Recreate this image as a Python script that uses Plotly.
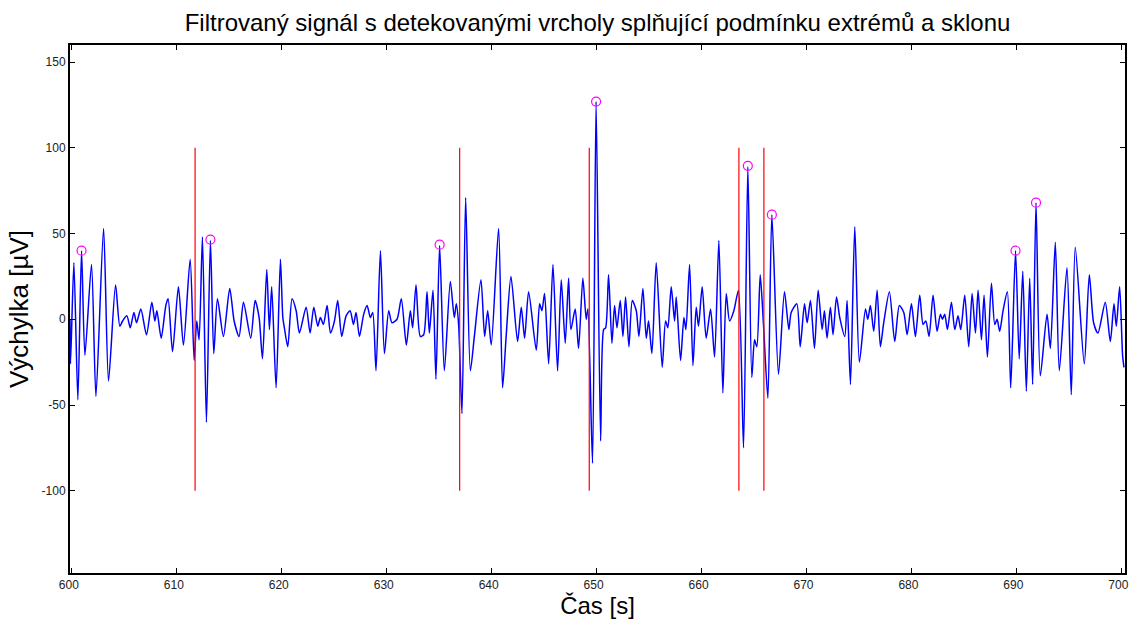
import plotly.graph_objects as go

# signal extrema (time [s], amplitude [uV])
t_sig = [599.82, 599.87, 600.19, 600.57, 600.92, 601.24, 601.87, 602.29, 603.02, 603.49,
         604.16, 604.57, 604.83, 605.24, 605.56, 605.91, 606.16, 606.57, 607.11, 607.62,
         607.91, 608.10, 608.51, 608.95, 609.17, 609.59, 610.15, 610.63, 611.27, 611.65,
         611.90, 612.12, 612.44, 612.82, 613.20, 613.52, 613.87, 614.44, 615.04, 615.46,
         615.93, 616.35, 617.04, 617.46, 617.84, 618.16, 618.57, 618.82, 619.04, 619.46,
         619.87, 620.10, 620.25, 620.57, 620.98, 621.37, 621.68, 622.32, 622.70, 623.05,
         623.43, 623.68, 623.97, 624.32, 624.64, 625.02, 625.33, 625.71, 626.13, 626.51,
         626.83, 627.08, 627.40, 627.81, 628.13, 628.44, 628.67, 628.98, 629.40, 629.78,
         630.19, 630.50, 630.98, 631.39, 631.87, 632.25, 632.47, 632.79, 633.20, 633.52,
         633.84, 634.06, 634.41, 634.69, 635.04, 635.49, 636.06, 636.44, 636.63, 636.85,
         637.17, 637.52, 637.97, 638.35, 638.98, 639.33, 639.62, 639.96, 640.66, 641.04,
         641.39, 641.84, 642.47, 642.82, 643.14, 643.52, 644.25, 644.57, 644.79, 645.04,
         645.43, 645.84, 646.28, 646.63, 647.01, 647.33, 647.55, 647.96, 648.28, 648.69,
         649.01, 649.17, 649.61, 649.95, 650.38, 650.67, 650.86, 651.14, 651.46, 651.71,
         651.94, 652.25, 652.51, 652.76, 653.08, 653.40, 653.78, 654.03, 654.41, 654.73,
         654.95, 655.27, 655.68, 656.25, 656.57, 656.79, 657.11, 657.43, 657.59, 658.00,
         658.32, 658.51, 658.86, 659.18, 659.49, 659.71, 660.06, 660.44, 660.86, 661.24,
         661.65, 662.03, 662.35, 662.67, 663.08, 663.52, 664.00, 664.41, 664.79, 665.05,
         665.27, 665.59, 665.90, 666.32, 666.70, 667.33, 667.90, 668.32, 668.54, 669.08,
         669.40, 669.81, 670.06, 670.38, 670.76, 671.11, 671.49, 671.71, 671.96, 672.28,
         672.53, 672.86, 673.17, 673.65, 673.87, 674.19, 674.60, 675.04, 675.62, 675.84,
         676.09, 676.41, 676.73, 677.04, 677.36, 677.90, 678.41, 678.85, 679.27, 679.59,
         680.00, 680.38, 680.79, 681.11, 681.37, 681.68, 682.06, 682.44, 682.76, 682.95,
         683.17, 683.43, 683.81, 684.13, 684.44, 684.70, 685.08, 685.46, 685.78, 686.10,
         686.35, 686.67, 686.92, 687.24, 687.62, 687.94, 688.16, 688.41, 688.73, 689.14,
         689.46, 689.92, 690.27, 690.61, 690.95, 691.27, 691.55, 691.87, 692.28, 692.92,
         693.24, 693.71, 694.09, 694.82, 695.23, 695.61, 696.47, 696.95, 697.36, 697.77,
         698.47, 698.95, 699.30, 699.52, 699.84, 700.12, 700.25]
y_sig = [0, -26, 33, -47, 40, -21, 32, -45, 53, -36,
         20, -4, -1, 2, -5, 4, -2, 6, -9, 10,
         -1, 5, -11, 8, 12, -19, 19, -15, 35, -24,
         -1, -12, 48, -60, 46, -20, 12, -10, 18, -1,
         -10, 10, -11, 11, 1, -23, 29, -6, 19, -40,
         35, 1, -5, -16, 12, 5, -8, 7, -8, 7,
         -4, 1, -3, 8, -8, -1, 11, -10, 2, 5,
         -3, 4, -10, 3, 8, 1, 4, -30, 40, -20,
         5, -2, 0, 12, -15, 5, -5, 20, -10, -9,
         16, -8, 17, -35, 43, -30, 22, 1, 9, -3,
         -55, 71, -30, -10, 23, -10, 5, -15, 53, -40,
         -9, 25, -13, 7, -11, 16, -18, 9, 5, 15,
         -26, 32, -30, 23, -14, 24, -6, 6, -17, 24,
         0, 6, -84, 127, -71, -6, -5, 26, -14, 8,
         -5, 11, -10, 13, -16, 11, 5, -10, 18, -11,
         -1, -20, 33, -28, -1, -5, 19, -1, 13, -24,
         1, -6, 32, -27, 7, -4, 19, -11, 6, -22,
         46, -43, 15, -1, 5, 17, -75, 89, -34, -12,
         -16, 26, -3, -46, 61, -32, 16, -6, 4, 9,
         -16, 9, -2, 11, -17, 17, -6, 5, -11, 7,
         -9, 13, 1, -10, 11, -38, 54, -25, 6, 0,
         8, -7, 17, -16, -2, 16, -13, 8, 4, -9,
         9, -10, 14, -3, -1, -10, 14, -7, 3, 0,
         3, -6, 10, -6, 2, -6, 14, -16, 15, -8,
         17, -12, 14, -22, 21, -3, 0, -7, 5, 16,
         -40, 40, -23, 28, -42, 24, -38, 68, -33, 3,
         -17, 45, -30, 30, -44, 42, -26, 26, -2, -8,
         10, -13, 9, -4, 19, -21, -28]

# detected peaks (magenta circles)
t_peak = [600.92, 613.20, 635.04, 649.95, 664.41, 666.70, 689.92, 691.87]
y_peak = [40, 46.5, 43.5, 127, 89.5, 61, 40, 68]

# red markers (vertical lines from -100 to 100)
t_mark = [611.74, 636.95, 649.30, 663.56, 665.94]
mark_lo, mark_hi = -100, 100

x_ticks = list(range(600, 701, 10))
y_ticks = [-100, -50, 0, 50, 100, 150]
y_labels = ['-100', '-50', '0', '50', '100', '150']

mx, my = [], []
for t in t_mark:
    mx += [t, t, None]
    my += [mark_lo, mark_hi, None]

fig = go.Figure()
fig.add_trace(go.Scatter(x=t_sig, y=y_sig, mode='lines',
                         line=dict(color='#0000ff', width=1.5, shape='spline', smoothing=0.7),
                         hoverinfo='skip'))
fig.add_trace(go.Scatter(x=mx, y=my, mode='lines',
                         line=dict(color='#ff0000', width=1.2)))
fig.add_trace(go.Scatter(x=t_peak, y=y_peak, mode='markers',
                         marker=dict(symbol='circle-open', size=9, color='#ff00ff',
                                     line=dict(width=1.2))))

axis_common = dict(showline=True, linecolor='black', linewidth=2, mirror='ticks',
                   ticks='inside', ticklen=5, tickcolor='black', showgrid=False,
                   zeroline=False, automargin=False, ticklabeloverflow='allow',
                   tickfont=dict(family='Liberation Sans', size=12, color='#222'))

fig.update_layout(
    width=1129, height=619,
    paper_bgcolor='white', plot_bgcolor='white',
    showlegend=False,
    margin=dict(l=70, r=4, t=45, b=46),
    title=dict(text='Filtrovaný signál s detekovanými vrcholy splňující podmínku extrémů a sklonu',
               xref='paper', x=0.5, xanchor='center', y=0.964, yanchor='middle',
               font=dict(family='Liberation Sans', size=24, color='black')),
    xaxis=dict(range=[599.82, 700.35], tickvals=x_ticks, ticklabelshift=-3,
               title=dict(text='Čas [s]', standoff=5,
                          font=dict(family='Liberation Sans', size=24, color='black')),
               **axis_common),
    yaxis=dict(range=[-148, 160], tickvals=y_ticks, ticktext=y_labels,
               title=dict(text='Výchylka [µV]', standoff=5,
                          font=dict(family='Liberation Sans', size=26, color='black')),
               **axis_common),
)

# drop the default page margin so the figure fills the window exactly
fig.write_html("out.html", config={'displayModeBar': False},
               post_script="document.body.style.margin='0';")
